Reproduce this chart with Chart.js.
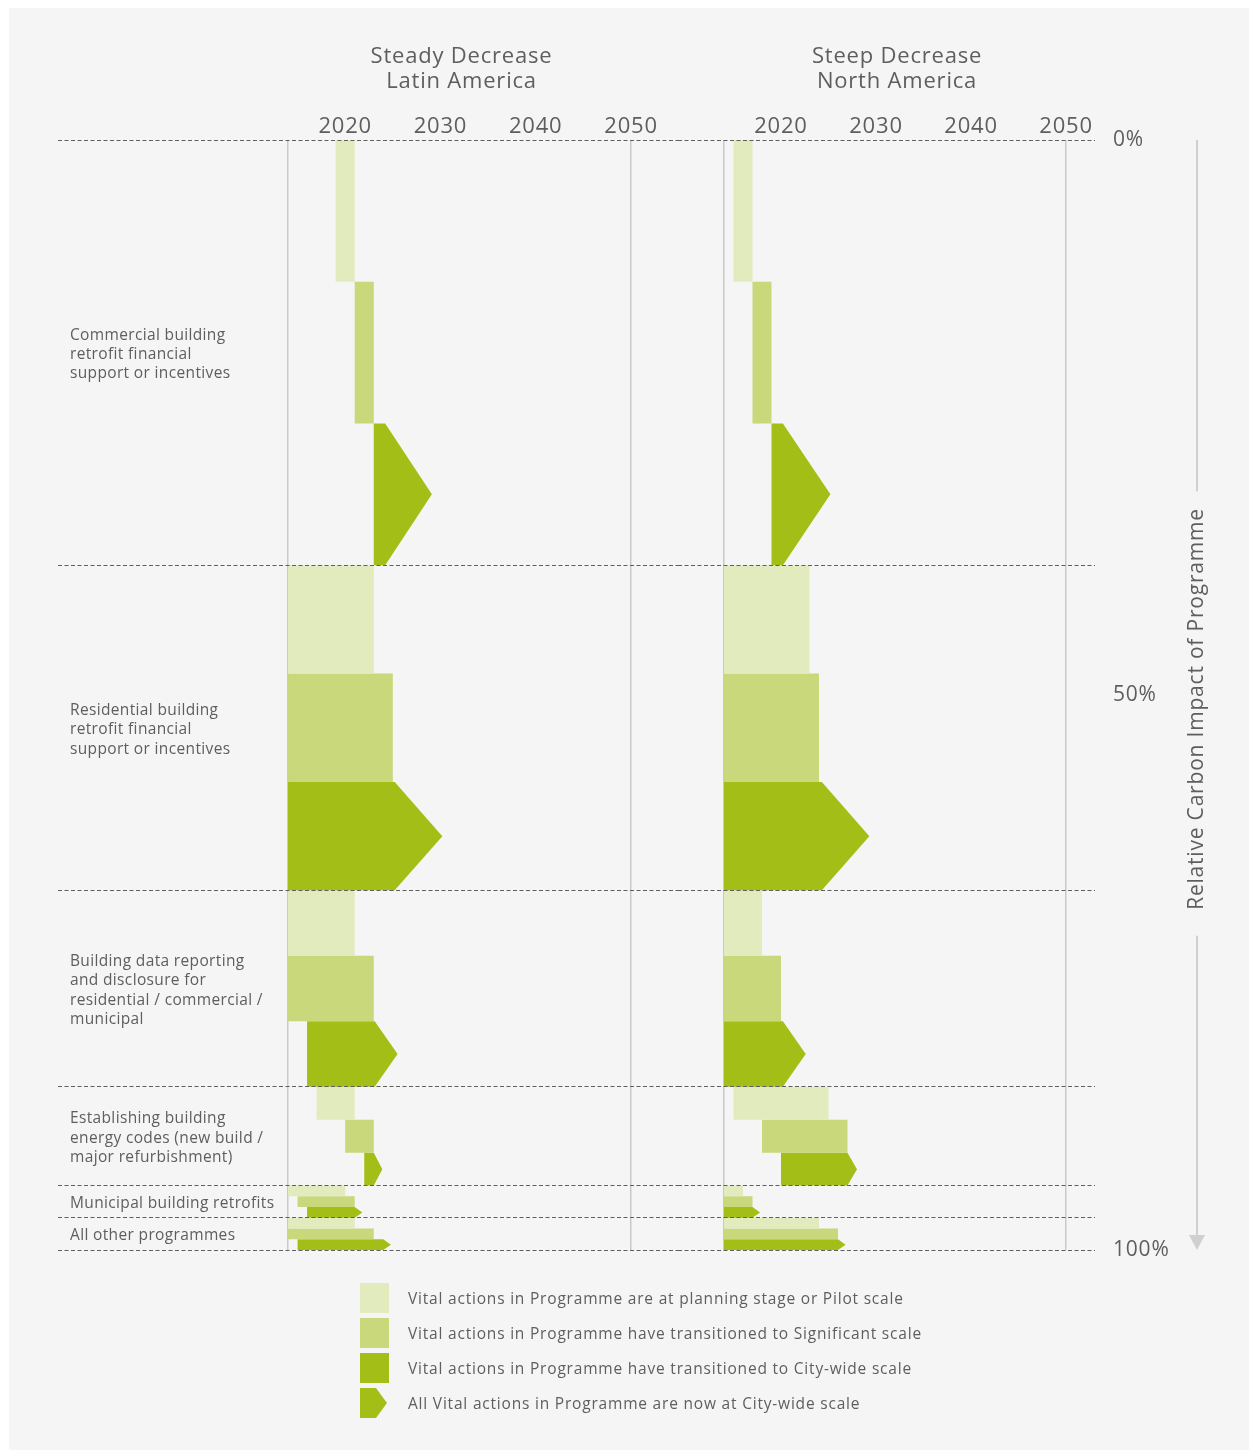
<!DOCTYPE html>
<html>
<head>
<meta charset="utf-8">
<script src="https://cdn.jsdelivr.net/npm/chart.js@4/dist/chart.umd.min.js"></script>
<style>
  html, body { margin: 0; padding: 0; background: #ffffff; width: 1249px; height: 1450px; overflow: hidden; }
  #panel { position: absolute; left: 9px; top: 8px; width: 1240px; height: 1442px; background: #f5f5f5; }
  #wrapLeft { position: absolute; left: 0; top: 0; width: 678px; height: 1450px; }
  #wrapRight { position: absolute; left: 678px; top: 0; width: 571px; height: 1450px; }
  #legend { position: absolute; left: 360px; top: 1283px; font-family: 'Open Sans', 'Noto Sans', sans-serif; font-size: 15.5px; letter-spacing: 0.8px; color: #5e5e5e; }
  .row { display: flex; align-items: center; height: 30px; margin-bottom: 5px; }
  .row svg { display: block; margin-right: 19px; }
</style>
</head>
<body>
<div id="panel"></div>
<div id="wrapLeft"><canvas id="chartLeft"></canvas></div>
<div id="wrapRight"><canvas id="chartRight"></canvas></div>
<div id="legend"></div>
<script>
// ---------------- data ----------------
const programmes = [
  ['Commercial building', 'retrofit financial', 'support or incentives'],
  ['Residential building', 'retrofit financial', 'support or incentives'],
  ['Building data reporting', 'and disclosure for', 'residential / commercial /', 'municipal'],
  ['Establishing building', 'energy codes (new build /', 'major refurbishment)'],
  ['Municipal building retrofits'],
  ['All other programmes']
];
// share of relative carbon impact of each programme (%)
const impactShare = [38.3, 29.3, 17.7, 8.9, 2.9, 2.9];
const baselineYear = 2014;
const yearTicks = [2020, 2030, 2040, 2050];
const pctTicks = [0, 50, 100];
const axisTitle = 'Relative Carbon Impact of Programme';
const stageLabels = [
  'Vital actions in Programme are at planning stage or Pilot scale',
  'Vital actions in Programme have transitioned to Significant scale',
  'Vital actions in Programme have transitioned to City-wide scale',
  'All Vital actions in Programme are now at City-wide scale'
];
const stageColors = ['#e2ebbd', '#c8d87a', '#a3bf17'];

// Steady Decrease — Latin America (years)
const laTitle = ['Steady Decrease', 'Latin America'];
const laPilotStart = [2019, 2014, 2014, 2017, 2014, 2014];
const laPilotEnd = [2021, 2023, 2021, 2021, 2020, 2021];
const laSignificantStart = [2021, 2014, 2014, 2020, 2015, 2014];
const laSignificantEnd = [2023, 2025, 2023, 2023, 2021, 2023];
const laCityStart = [2023, 2014, 2016, 2022, 2016, 2015];
const laCityEnd = [2024.2, 2025.2, 2023.1, 2023, 2021, 2024];
const laAllCityWide = [2029.1, 2030.2, 2025.5, 2023.9, 2021.8, 2024.8];

// Steep Decrease — North America (years)
const naTitle = ['Steep Decrease', 'North America'];
const naPilotStart = [2015, 2014, 2014, 2015, 2014, 2014];
const naPilotEnd = [2017, 2023, 2018, 2025, 2016, 2024];
const naSignificantStart = [2017, 2014, 2014, 2018, 2014, 2014];
const naSignificantEnd = [2019, 2024, 2020, 2027, 2017, 2026];
const naCityStart = [2019, 2014, 2014, 2020, 2014, 2014];
const naCityEnd = [2020.2, 2024.3, 2020.2, 2027, 2017, 2026];
const naAllCityWide = [2025.2, 2029.3, 2022.6, 2028, 2017.8, 2026.8];

// ---------------- derived ----------------
const FONT = "'Open Sans', 'Noto Sans', sans-serif";
const TEXT = '#5e5e5e';
const lastYear = yearTicks[yearTicks.length - 1];
const bounds = impactShare.reduce((a, s) => { a.push(Math.round((a[a.length - 1] + s) * 1000) / 1000); return a; }, [0]);
const centers = impactShare.map((s, i) => bounds[i] + s / 2);

function rectPts(x0, x1, y0, y1) {
  return [{x: x0, y: y0}, {x: x1, y: y0}, {x: x1, y: y1}, {x: x0, y: y1}, {x: x0, y: y0}];
}
function arrowPts(x0, x1, tip, y0, y1) {
  return [{x: x0, y: y0}, {x: x1, y: y0}, {x: tip, y: (y0 + y1) / 2}, {x: x1, y: y1}, {x: x0, y: y1}, {x: x0, y: y0}];
}
function shape(points, color) {
  return {
    data: points, fill: 'shape', backgroundColor: color,
    borderColor: 'rgba(0,0,0,0)', borderWidth: 0, pointRadius: 0, pointHoverRadius: 0,
    tension: 0, yAxisID: 'y', xAxisID: 'x'
  };
}
function buildDatasets(p) {
  const ds = [];
  impactShare.forEach((s, i) => {
    const h = s / 3;
    const r = [bounds[i], bounds[i] + h, bounds[i] + 2 * h, bounds[i + 1]];
    ds.push(shape(rectPts(p.pilotStart[i], p.pilotEnd[i], r[0], r[1]), stageColors[0]));
    ds.push(shape(rectPts(p.sigStart[i], p.sigEnd[i], r[1], r[2]), stageColors[1]));
    ds.push(shape(arrowPts(p.cityStart[i], p.cityEnd[i], p.allCity[i], r[2], r[3]), stageColors[2]));
  });
  return ds;
}

const spacingPlugin = {
  id: 'letterSpacing',
  beforeDraw(chart) { if ('letterSpacing' in chart.ctx) chart.ctx.letterSpacing = '0.8px'; }
};

// narrower tracking for the programme labels
function withSpacing(scale, spacing) {
  if (scale._spacingWrapped) return;
  const orig = scale.drawLabels.bind(scale);
  scale.drawLabels = (area) => {
    const c = scale.ctx;
    const has = 'letterSpacing' in c;
    const prev = has ? c.letterSpacing : null;
    if (has) c.letterSpacing = spacing;
    orig(area);
    if (has) c.letterSpacing = prev;
  };
  scale._spacingWrapped = true;
}

const panelTitlePlugin = {
  id: 'panelTitle',
  afterDraw(chart, args, opts) {
    const {ctx, chartArea} = chart;
    const x = chart.scales.x;
    const cx = x.getPixelForValue((baselineYear + lastYear) / 2) + 2;
    ctx.save();
    ctx.font = '22px ' + FONT;
    ctx.fillStyle = TEXT;
    ctx.textAlign = 'center';
    ctx.textBaseline = 'alphabetic';
    opts.lines.forEach((l, k) => ctx.fillText(l, cx, chartArea.top - 77 + k * 25));
    ctx.restore();
  }
};

const sideTitlePlugin = {
  id: 'sideTitle',
  afterDraw(chart, args, opts) {
    if (!opts.text) return;
    const {ctx, chartArea} = chart;
    const x = chartArea.right + 102;
    ctx.save();
    ctx.font = '21px ' + FONT;
    const w = ctx.measureText(opts.text).width;
    const cy = (chartArea.top + chartArea.bottom) / 2 + 14;
    ctx.strokeStyle = '#d0d0d0';
    ctx.fillStyle = '#d0d0d0';
    ctx.lineWidth = 2;
    ctx.beginPath();
    ctx.moveTo(x, chartArea.top);
    ctx.lineTo(x, cy - w / 2 - 17);
    ctx.moveTo(x, cy + w / 2 + 26);
    ctx.lineTo(x, chartArea.bottom - 12);
    ctx.stroke();
    ctx.beginPath();
    ctx.moveTo(x - 8, chartArea.bottom - 15);
    ctx.lineTo(x + 8, chartArea.bottom - 15);
    ctx.lineTo(x, chartArea.bottom);
    ctx.closePath();
    ctx.fill();
    ctx.translate(x, cy);
    ctx.rotate(-Math.PI / 2);
    ctx.fillStyle = TEXT;
    ctx.textAlign = 'center';
    ctx.textBaseline = 'middle';
    ctx.fillText(opts.text, 0, 0);
    ctx.restore();
  }
};

function xScale(min, max) {
  return {
    type: 'linear', position: 'top', min, max, bounds: 'data',
    afterBuildTicks: s => { s.ticks = [baselineYear].concat(yearTicks).map(v => ({value: v})); },
    afterFit: s => { s.height = 40; },
    ticks: {
      autoSkip: false, maxRotation: 0, padding: 0, color: TEXT,
      font: {family: FONT, size: 22},
      callback: v => (yearTicks.includes(v) ? String(v) : '')
    },
    grid: {
      drawTicks: false, lineWidth: 1.5,
      color: c => (c.tick && (c.tick.value === baselineYear || c.tick.value === lastYear)) ? '#c9c9c9' : 'rgba(0,0,0,0)'
    },
    border: {display: false}
  };
}
function gridScale(position) {
  return {
    type: 'linear', position, min: 0, max: 100, reverse: true,
    afterBuildTicks: s => { s.ticks = bounds.map(v => ({value: v})); },
    ticks: {display: false},
    grid: {drawTicks: false, color: '#5f5f5f', lineWidth: 1, z: 1},
    border: {display: false, dash: [4, 2.5]}
  };
}

function makeChart(id, datasets, scales, plugins) {
  return new Chart(document.getElementById(id), {
    type: 'line',
    data: {datasets},
    options: {
      responsive: true, maintainAspectRatio: false, animation: false, events: [],
      layout: {padding: scales._pad},
      scales: scales.s,
      plugins: Object.assign({legend: {display: false}, tooltip: {enabled: false}}, plugins.opts)
    },
    plugins: [spacingPlugin].concat(plugins.list)
  });
}

// Left panel
makeChart('chartLeft',
  buildDatasets({pilotStart: laPilotStart, pilotEnd: laPilotEnd, sigStart: laSignificantStart, sigEnd: laSignificantEnd,
                 cityStart: laCityStart, cityEnd: laCityEnd, allCity: laAllCityWide}),
  {
    _pad: {left: 34, right: 0, top: 100, bottom: 200},
    s: {
      x: xScale(1989.86, 2054.93),
      y: gridScale('left'),
      yLabels: {
        type: 'linear', position: 'left', min: 0, max: 100, reverse: true,
        afterBuildTicks: s => { s.ticks = centers.map(v => ({value: v})); withSpacing(s, '0.35px'); },
        ticks: {
          mirror: true, padding: 12, crossAlign: 'near', autoSkip: false, color: TEXT, labelOffset: 2,
          font: {family: FONT, size: 15.5, lineHeight: 1.25},
          callback: (v, i) => programmes[i]
        },
        grid: {display: false, drawTicks: false},
        border: {display: false}
      }
    }
  },
  {list: [panelTitlePlugin], opts: {panelTitle: {lines: laTitle}}}
);

// Right panel
makeChart('chartRight',
  buildDatasets({pilotStart: naPilotStart, pilotEnd: naPilotEnd, sigStart: naSignificantStart, sigEnd: naSignificantEnd,
                 cityStart: naCityStart, cityEnd: naCityEnd, allCity: naAllCityWide}),
  {
    _pad: {left: 0, right: 0, top: 100, bottom: 200},
    s: {
      x: xScale(2009.16, 2053.05),
      y: gridScale('left'),
      yPct: {
        type: 'linear', position: 'right', min: 0, max: 100, reverse: true,
        afterBuildTicks: s => { s.ticks = pctTicks.map(v => ({value: v})); },
        afterFit: s => { s.width = 154; },
        ticks: {
          padding: 18, crossAlign: 'near', autoSkip: false, color: TEXT,
          font: {family: FONT, size: 21},
          callback: v => v + '%'
        },
        grid: {display: false, drawTicks: false},
        border: {display: false}
      }
    }
  },
  {list: [panelTitlePlugin, sideTitlePlugin], opts: {panelTitle: {lines: naTitle}, sideTitle: {text: axisTitle}}}
);

// Legend
const legend = document.getElementById('legend');
stageLabels.forEach((label, i) => {
  const row = document.createElement('div');
  row.className = 'row';
  const color = stageColors[Math.min(i, 2)];
  const shapeSvg = i < 3
    ? `<rect x="0" y="0" width="29" height="30" fill="${color}"/>`
    : `<polygon points="0,0 16,0 27,15 16,30 0,30" fill="${color}"/>`;
  row.innerHTML = `<svg width="29" height="30" viewBox="0 0 29 30">${shapeSvg}</svg><span>${label}</span>`;
  legend.appendChild(row);
});
</script>
</body>
</html>
